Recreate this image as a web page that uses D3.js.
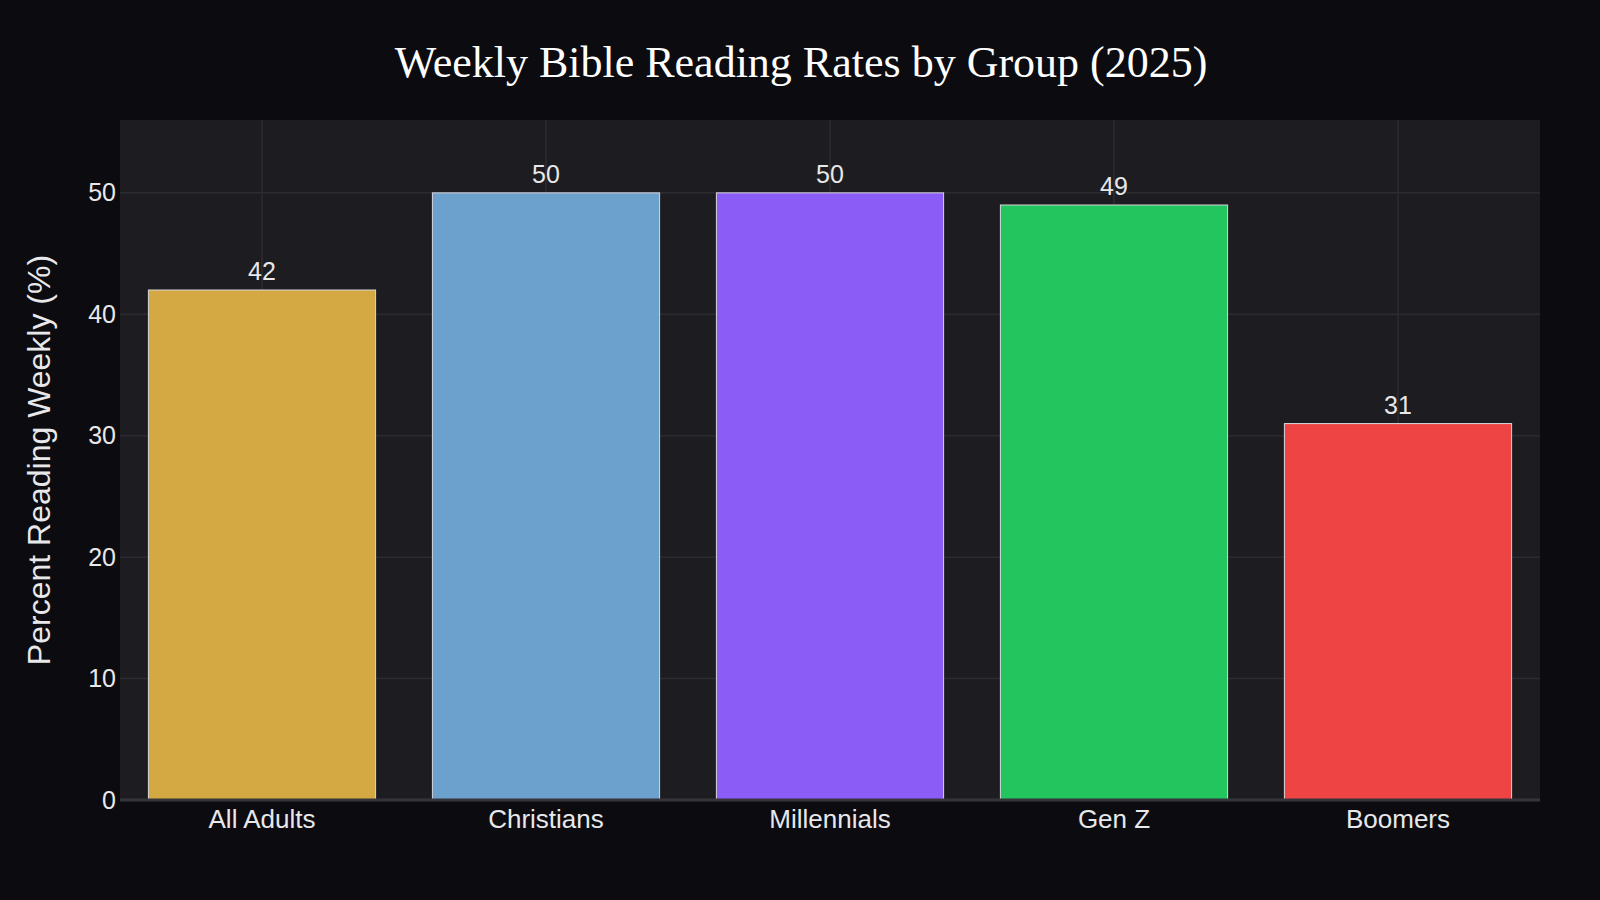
<!DOCTYPE html>
<html>
<head>
<meta charset="utf-8">
<script src="https://cdn.jsdelivr.net/npm/d3@7"></script>
<style>
    body { margin: 0; background: #0b0b10; }
    #chart { width: 1600px; height: 900px; }
</style>
</head>
<body>
<div id="chart"></div>
<script>
// data
const groups = ["All Adults", "Christians", "Millennials", "Gen Z", "Boomers"];
const weeklyRates = [42, 50, 50, 49, 31];
const barColors = ["#D4A843", "#6CA1CE", "#8B5CF6", "#22C55E", "#EF4444"];
const yTicks = [0, 10, 20, 30, 40, 50];

const width = 1600, height = 900;
const margin = {top: 120, right: 60, bottom: 100, left: 120};
const innerW = width - margin.left - margin.right;
const innerH = height - margin.top - margin.bottom;

const svg = d3.select("#chart").append("svg")
    .attr("width", width)
    .attr("height", height)
    .style("background", "#0b0b10");

// title
svg.append("text")
    .attr("x", 801)
    .attr("y", 77)
    .attr("text-anchor", "middle")
    .attr("fill", "#ffffff")
    .style("font-family", "'Liberation Serif', 'Times New Roman', serif")
    .style("font-size", "44px")
    .text("Weekly Bible Reading Rates by Group (2025)");

const g = svg.append("g")
    .attr("transform", `translate(${margin.left},${margin.top})`);

// plot background
g.append("rect")
    .attr("width", innerW)
    .attr("height", innerH)
    .attr("fill", "#1c1c21");

const x = d3.scaleBand()
    .domain(groups)
    .range([0, innerW])
    .paddingInner(0.2)
    .paddingOuter(0.1);

const y = d3.scaleLinear()
    .domain([0, 56])
    .range([innerH, 0]);

// grid lines
g.selectAll(".hgrid")
    .data(yTicks.filter(d => d > 0))
    .enter().append("line")
    .attr("class", "hgrid")
    .attr("x1", 0).attr("x2", innerW)
    .attr("y1", d => y(d)).attr("y2", d => y(d))
    .attr("stroke", "#2b2b31")
    .attr("stroke-width", 1.5);

g.selectAll(".vgrid")
    .data(groups)
    .enter().append("line")
    .attr("class", "vgrid")
    .attr("x1", d => x(d) + x.bandwidth() / 2)
    .attr("x2", d => x(d) + x.bandwidth() / 2)
    .attr("y1", 0).attr("y2", innerH)
    .attr("stroke", "#2b2b31")
    .attr("stroke-width", 1.5);

// bars
const rows = groups.map((d, i) => ({group: d, value: weeklyRates[i], color: barColors[i]}));

g.selectAll(".bar")
    .data(rows)
    .enter().append("rect")
    .attr("class", "bar")
    .attr("x", d => x(d.group))
    .attr("y", d => y(d.value))
    .attr("width", x.bandwidth())
    .attr("height", d => y(0) - y(d.value))
    .attr("fill", d => d.color)
    .attr("stroke", "#d8d8dc")
    .attr("stroke-width", 1);

// zero line
g.append("line")
    .attr("x1", 0).attr("x2", innerW)
    .attr("y1", y(0)).attr("y2", y(0))
    .attr("stroke", "#35353b")
    .attr("stroke-width", 3);

// value labels
g.selectAll(".val")
    .data(rows)
    .enter().append("text")
    .attr("class", "val")
    .attr("x", d => x(d.group) + x.bandwidth() / 2)
    .attr("y", d => y(d.value) - 10)
    .attr("text-anchor", "middle")
    .attr("fill", "#e8e8ea")
    .style("font-family", "'Liberation Sans', Arial, sans-serif")
    .style("font-size", "25px")
    .text(d => d.value);

// axes
const yAxis = d3.axisLeft(y).tickValues(yTicks).tickSize(0).tickPadding(4);
const xAxis = d3.axisBottom(x).tickSize(0).tickPadding(10);

const yG = g.append("g").call(yAxis);
const xG = g.append("g").attr("transform", `translate(0,${innerH})`).call(xAxis);

[yG, xG].forEach(a => {
    a.select(".domain").remove();
    a.selectAll("text")
        .attr("fill", "#e8e8ea")
        .style("font-family", "'Liberation Sans', Arial, sans-serif")
        .style("font-size", "25px");
});
xG.selectAll("text").style("font-size", "26px");

// y axis title
svg.append("text")
    .attr("transform", `translate(50,${margin.top + innerH / 2}) rotate(-90)`)
    .attr("text-anchor", "middle")
    .attr("fill", "#e8e8ea")
    .style("font-family", "'Liberation Sans', Arial, sans-serif")
    .style("font-size", "32px")
    .text("Percent Reading Weekly (%)");
</script>
</body>
</html>
